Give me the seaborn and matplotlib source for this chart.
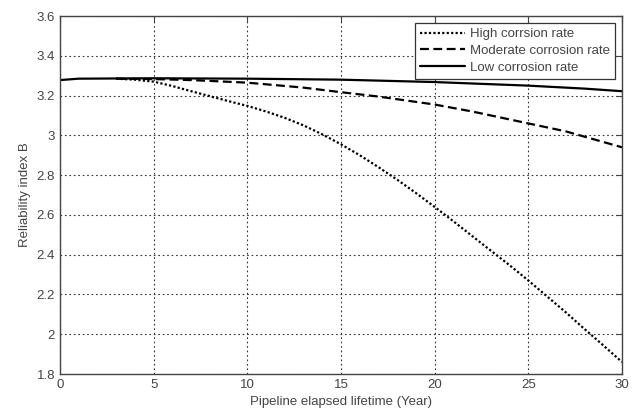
import pandas as pd
import seaborn as sns
import matplotlib.pyplot as plt
from matplotlib.ticker import FuncFormatter

# values
high_years = [3, 4, 5, 6, 7, 8, 9, 10, 11, 12, 13, 14, 15, 16, 17, 18, 19, 20,
              21, 22, 23, 24, 25, 26, 27, 28, 29, 30]
high_beta = [3.285, 3.28, 3.27, 3.248, 3.222, 3.197, 3.172, 3.148, 3.12, 3.088,
             3.05, 3.005, 2.955, 2.9, 2.84, 2.777, 2.71, 2.64, 2.568, 2.494,
             2.42, 2.347, 2.27, 2.19, 2.11, 2.026, 1.944, 1.86]

mod_years = [3, 5, 7, 10, 13, 15, 17, 20, 22, 25, 27, 30]
mod_beta = [3.285, 3.283, 3.278, 3.265, 3.24, 3.217, 3.195, 3.155, 3.12, 3.06,
            3.02, 2.94]

low_years = [0, 1, 5, 10, 15, 20, 25, 28, 30]
low_beta = [3.278, 3.285, 3.287, 3.285, 3.28, 3.268, 3.25, 3.235, 3.222]

labels = ['High corrsion rate', 'Moderate corrosion rate', 'Low corrosion rate']

df = pd.concat([
    pd.DataFrame({'Year': high_years, 'Beta': high_beta, 'Rate': labels[0]}),
    pd.DataFrame({'Year': mod_years, 'Beta': mod_beta, 'Rate': labels[1]}),
    pd.DataFrame({'Year': low_years, 'Beta': low_beta, 'Rate': labels[2]}),
])

sns.set_style('white')
plt.rcParams['font.family'] = ['Liberation Sans', 'DejaVu Sans']

fig = plt.figure(figsize=(6.37, 4.11), dpi=100)
ax = fig.add_axes([0.0942, 0.090, 0.8823, 0.871])

sns.lineplot(data=df, x='Year', y='Beta', hue='Rate', style='Rate',
             palette=['black'] * 3,
             dashes={labels[0]: (1, 1), labels[1]: (4, 2), labels[2]: ''},
             linewidth=1.6, ax=ax)

ax.set_xlim(0, 30)
ax.set_ylim(1.8, 3.6)
ax.set_xticks(range(0, 31, 5))
ax.set_yticks([1.8, 2.0, 2.2, 2.4, 2.6, 2.8, 3.0, 3.2, 3.4, 3.6])
ax.yaxis.set_major_formatter(FuncFormatter(lambda v, p: f'{v:g}'))
ax.grid(True, color='#333333', linestyle=(0, (1.5, 2.5)), linewidth=0.8)
ax.tick_params(direction='in', length=4, top=True, right=True,
               labelsize=9.5, labelcolor='#444444', color='#444444', width=0.8)
for s in ax.spines.values():
    s.set_color('#444444')
    s.set_linewidth(1.0)

ax.set_xlabel('Pipeline elapsed lifetime (Year)', fontsize=9.5, color='#444444')
ax.set_ylabel('Reliability index B', fontsize=9.5, color='#444444')

leg = ax.legend(loc='upper right', fontsize=9.5, frameon=True, fancybox=False,
                edgecolor='#333333', framealpha=1, handlelength=3.4,
                handletextpad=0.4, borderaxespad=0.5, labelspacing=0.35,
                borderpad=0.4)
leg.get_frame().set_linewidth(0.9)
for t in leg.get_texts():
    t.set_color('#444444')

fig.savefig('out.png', dpi=100)
